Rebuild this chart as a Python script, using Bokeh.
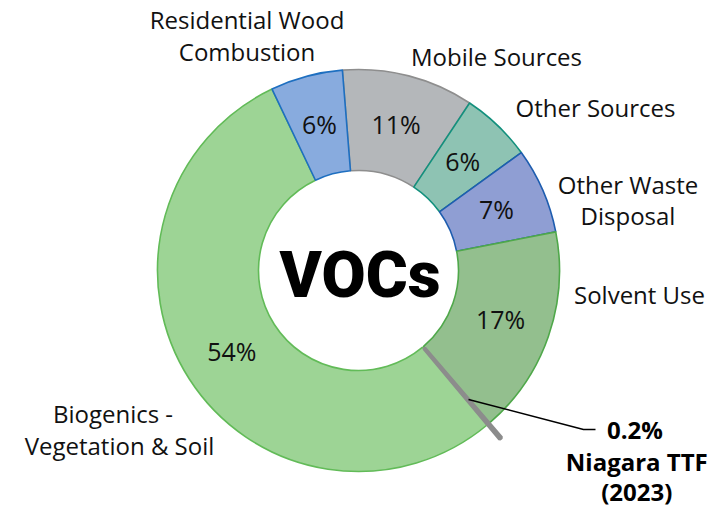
import numpy as np
from bokeh.plotting import figure
from bokeh.models import Range1d
from bokeh.core.properties import value
from bokeh.embed import file_html
from bokeh.resources import INLINE

# ---------------- data ----------------
categories = ["Mobile Sources", "Other Sources", "Other Waste Disposal", "Solvent Use",
              "Niagara TTF (2023)", "Biogenics - Vegetation & Soil", "Residential Wood Combustion"]
shares = [10.6, 5.7, 6.9, 16.8, 0.2, 54.0, 5.8]          # percent
pct_labels = ["11%", "6%", "7%", "17%", "0.2%", "54%", "6%"]
center_title = "VOCs"

# ---------------- style ----------------
fills = ["#B4B7BA", "#8EC3B3", "#8F9ED3", "#93BF8E", "#8C8C8C", "#9DD495", "#88ABDE"]
lines = ["#8E8E8E", "#13907D", "#1E5DAF", "#4FA84A", "#8C8C8C", "#62BB58", "#1E6FC0"]
# (text lines, centre x, cap-centre y of first line, line spacing)
label_lines = {
    "Mobile Sources": (["Mobile Sources"], 496, 56.7, 32),
    "Other Sources": (["Other Sources"], 595, 108.3, 32),
    "Other Waste Disposal": (["Other Waste", "Disposal"], 627.5, 185, 30.5),
    "Solvent Use": (["Solvent Use"], 639, 295.4, 32),
    "Residential Wood Combustion": (["Residential Wood", "Combustion"], 246.5, 19.5, 32.2),
}
FONT = "Open Sans"
CX, CY = 358.0, 270.0
R_IN, R_OUT = 100.0, 201.0
START = -4.6   # degrees clockwise from 12 o'clock
DY = -1.0      # small correction for rendered text centre

W, H = 725, 507
p = figure(width=W, height=H, output_backend="svg", toolbar_location=None,
           x_range=Range1d(0, W), y_range=Range1d(-H, 0),
           min_border=0, outline_line_color=None)
p.axis.visible = False
p.grid.visible = False
p.background_fill_color = "white"
p.border_fill_color = "white"

def Y(y):
    return -(y + DY)

cum = START + 3.6 * np.concatenate([[0], np.cumsum(shares)])
t0 = cum[:-1]
t1 = cum[1:]

ttf_i = categories.index("Niagara TTF (2023)")
for i in range(len(categories)):
    if i == ttf_i:
        continue
    p.annular_wedge(x=CX, y=-CY, inner_radius=R_IN, outer_radius=R_OUT,
                    start_angle=np.radians(90 - t1[i]), end_angle=np.radians(90 - t0[i]),
                    fill_color=fills[i], line_color=lines[i], line_width=1.6)

# tiny exploded slice for the Niagara TTF share
p.annular_wedge(x=CX, y=-CY, inner_radius=R_IN + 2, outer_radius=R_OUT + 19,
                start_angle=np.radians(90 - t1[ttf_i]), end_angle=np.radians(90 - t0[ttf_i]),
                fill_color=fills[ttf_i], line_color=lines[ttf_i], line_width=3)

# percent labels inside ring
rm = (R_IN + R_OUT) / 2
for i in range(len(categories)):
    if i == ttf_i:
        continue
    mid = np.radians((t0[i] + t1[i]) / 2)
    x = CX + rm * np.sin(mid)
    y = CY - rm * np.cos(mid)
    p.text(x=[x], y=[Y(y)], text=[pct_labels[i]], text_font=value(FONT),
           text_font_size="25px", text_align="center", text_baseline="alphabetic",
           text_color="#111111")

# category labels
for name, (txts, x, yc, dy) in label_lines.items():
    for k, t in enumerate(txts):
        p.text(x=[x], y=[Y(yc + k * dy)], text=[t], text_font=value(FONT),
               text_font_size="24px", text_align="center", text_baseline="alphabetic",
               text_color="#111111")

# biogenics label (two lines, slightly offset)
bio = ["Biogenics -", "Vegetation & Soil"]
p.text(x=[112.5, 119], y=[Y(414), Y(446)], text=bio, text_font=value(FONT),
       text_font_size="24px", text_align="center", text_baseline="alphabetic",
       text_color="#111111")

# Niagara TTF callout
p.line(x=[468, 583, 595], y=[-399, -429, -429], line_color="black", line_width=1.5)
p.text(x=[634.5, 636.3, 636.3], y=[Y(430), Y(461.7), Y(492)],
       text=[pct_labels[ttf_i], "Niagara TTF", "(2023)"], text_font=value(FONT),
       text_font_style="bold", text_font_size="24px", text_align="center",
       text_baseline="alphabetic", text_color="black")

# centre title
p.text(x=[359.5], y=[Y(276)], text=[center_title], text_font=value("Roboto Black"),
       text_font_style="bold", text_font_size="64px", text_align="center",
       text_baseline="alphabetic", text_color="black")

open("out.html", "w").write(file_html(p, INLINE))
